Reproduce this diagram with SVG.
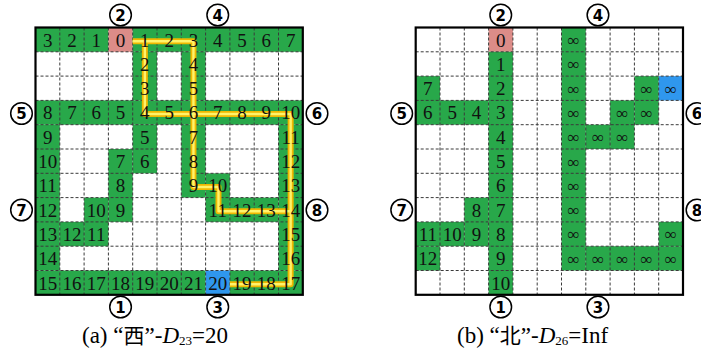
<svg xmlns="http://www.w3.org/2000/svg" xmlns:xlink="http://www.w3.org/1999/xlink" width="701" height="354" viewBox="0 0 701 354">
<style>
.g{fill:#28a84a}
.p{fill:#dc8c88}
.b{fill:#2f97ee}
.grid{fill:none;stroke:#3a3a3a;stroke-width:1;stroke-dasharray:3 2}
.border{fill:none;stroke:#000;stroke-width:2.2}
.n{font-family:"Liberation Serif","Times New Roman",serif;font-size:19px;fill:#111;text-anchor:middle}
.inf{font-family:"Liberation Serif","Times New Roman",serif;font-size:17px;fill:#111;text-anchor:middle}
.cc{fill:#fff;stroke:#000;stroke-width:1.5}
.ct{font-family:"DejaVu Sans","Liberation Sans",sans-serif;font-size:15px;font-weight:bold;fill:#000;text-anchor:middle}
.cap{font-family:"Liberation Serif","Times New Roman","Noto Sans CJK SC",serif;font-size:23px;fill:#000}
.po{fill:none;stroke:#efb800;stroke-width:6;stroke-linejoin:round;stroke-linecap:butt}
.pi{fill:none;stroke:#fff36a;stroke-width:2.4;stroke-linejoin:round;stroke-linecap:butt}
</style>
<defs>
<path id="gridlines" class="grid" d="M24.3,0V267.3M48.6,0V267.3M72.9,0V267.3M97.2,0V267.3M121.5,0V267.3M145.8,0V267.3M170.1,0V267.3M194.4,0V267.3M218.7,0V267.3M243,0V267.3M0,24.3H267.3M0,48.6H267.3M0,72.9H267.3M0,97.2H267.3M0,121.5H267.3M0,145.8H267.3M0,170.1H267.3M0,194.4H267.3M0,218.7H267.3M0,243H267.3"/>
<g id="circ"><circle class="cc" r="10.8"/></g>
</defs>

<!-- Panel (a) -->
<g id="panel-a">
<g id="cells-a">
<rect class="g" x="35.5" y="27.5" width="72.9" height="24.3"/>
<rect class="p" x="108.4" y="27.5" width="24.3" height="24.3"/>
<rect class="g" x="132.7" y="27.5" width="170.1" height="24.3"/>
<rect class="g" x="132.7" y="51.8" width="24.3" height="48.6"/>
<rect class="g" x="181.3" y="51.8" width="24.3" height="48.6"/>
<rect class="g" x="35.5" y="100.4" width="267.3" height="24.3"/>
<rect class="g" x="35.5" y="124.7" width="24.3" height="145.8"/>
<rect class="g" x="132.7" y="124.7" width="24.3" height="48.6"/>
<rect class="g" x="108.4" y="149" width="24.3" height="72.9"/>
<rect class="g" x="181.3" y="124.7" width="24.3" height="72.9"/>
<rect class="g" x="205.6" y="173.3" width="24.3" height="48.6"/>
<rect class="g" x="278.5" y="124.7" width="24.3" height="145.8"/>
<rect class="g" x="84.1" y="197.6" width="24.3" height="48.6"/>
<rect class="g" x="229.9" y="197.6" width="48.6" height="24.3"/>
<rect class="g" x="59.8" y="221.9" width="24.3" height="24.3"/>
<rect class="g" x="35.5" y="270.5" width="170.1" height="24.3"/>
<rect class="b" x="205.6" y="270.5" width="24.3" height="24.3"/>
<rect class="g" x="229.9" y="270.5" width="72.9" height="24.3"/>
</g>
<use xlink:href="#gridlines" href="#gridlines" transform="translate(35.5,27.5)"/>
<rect class="border" x="35.5" y="27.5" width="267.3" height="267.3"/>

<g id="connectors">
<path class="po" d="M132.7,41.2H193.45V187H218.5V211.3H290.65V284.2H229.9"/>
<path class="po" d="M144.85,41.2V114H290.65V211.3"/>
<path class="pi" d="M132.7,41.2H193.45V187H218.5V211.3H290.65V284.2H229.9"/>
<path class="pi" d="M144.85,41.2V114H290.65V211.3"/>
</g>

<g id="nums-a">
<text class="n" x="47.65" y="46.5">3</text><text class="n" x="71.95" y="46.5">2</text><text class="n" x="96.25" y="46.5">1</text><text class="n" x="120.55" y="46.5">0</text><text class="n" x="144.85" y="46.5">1</text><text class="n" x="169.15" y="46.5">2</text><text class="n" x="193.45" y="46.5">3</text><text class="n" x="217.75" y="46.5">4</text><text class="n" x="242.05" y="46.5">5</text><text class="n" x="266.35" y="46.5">6</text><text class="n" x="290.65" y="46.5">7</text>
<text class="n" x="144.85" y="70.8">2</text><text class="n" x="193.45" y="70.8">4</text>
<text class="n" x="144.85" y="95.1">3</text><text class="n" x="193.45" y="95.1">5</text>
<text class="n" x="47.65" y="119.4">8</text><text class="n" x="71.95" y="119.4">7</text><text class="n" x="96.25" y="119.4">6</text><text class="n" x="120.55" y="119.4">5</text><text class="n" x="144.85" y="119.4">4</text><text class="n" x="169.15" y="119.4">5</text><text class="n" x="193.45" y="119.4">6</text><text class="n" x="217.75" y="119.4">7</text><text class="n" x="242.05" y="119.4">8</text><text class="n" x="266.35" y="119.4">9</text><text class="n" x="290.65" y="119.4">10</text>
<text class="n" x="47.65" y="143.7">9</text><text class="n" x="144.85" y="143.7">5</text><text class="n" x="193.45" y="143.7">7</text><text class="n" x="290.65" y="143.7">11</text>
<text class="n" x="47.65" y="168">10</text><text class="n" x="120.55" y="168">7</text><text class="n" x="144.85" y="168">6</text><text class="n" x="193.45" y="168">8</text><text class="n" x="290.65" y="168">12</text>
<text class="n" x="47.65" y="192.3">11</text><text class="n" x="120.55" y="192.3">8</text><text class="n" x="193.45" y="192.3">9</text><text class="n" x="217.75" y="192.3">10</text><text class="n" x="290.65" y="192.3">13</text>
<text class="n" x="47.65" y="216.6">12</text><text class="n" x="96.25" y="216.6">10</text><text class="n" x="120.55" y="216.6">9</text><text class="n" x="217.75" y="216.6">11</text><text class="n" x="242.05" y="216.6">12</text><text class="n" x="266.35" y="216.6">13</text><text class="n" x="290.65" y="216.6">14</text>
<text class="n" x="47.65" y="240.9">13</text><text class="n" x="71.95" y="240.9">12</text><text class="n" x="96.25" y="240.9">11</text><text class="n" x="290.65" y="240.9">15</text>
<text class="n" x="47.65" y="265.2">14</text><text class="n" x="290.65" y="265.2">16</text>
<text class="n" x="47.65" y="289.5">15</text><text class="n" x="71.95" y="289.5">16</text><text class="n" x="96.25" y="289.5">17</text><text class="n" x="120.55" y="289.5">18</text><text class="n" x="144.85" y="289.5">19</text><text class="n" x="169.15" y="289.5">20</text><text class="n" x="193.45" y="289.5">21</text><text class="n" x="217.75" y="289.5">20</text><text class="n" x="242.05" y="289.5">19</text><text class="n" x="266.35" y="289.5">18</text><text class="n" x="290.65" y="289.5">17</text>
</g>

<g id="marks-a">
<use href="#circ" xlink:href="#circ" x="120.55" y="15"/><text class="ct" x="120.55" y="20.5">2</text>
<use href="#circ" xlink:href="#circ" x="217.75" y="15"/><text class="ct" x="217.75" y="20.5">4</text>
<use href="#circ" xlink:href="#circ" x="21.5" y="113.5"/><text class="ct" x="21.5" y="119">5</text>
<use href="#circ" xlink:href="#circ" x="317" y="113.5"/><text class="ct" x="317" y="119">6</text>
<use href="#circ" xlink:href="#circ" x="21.5" y="210"/><text class="ct" x="21.5" y="215.5">7</text>
<use href="#circ" xlink:href="#circ" x="317" y="210"/><text class="ct" x="317" y="215.5">8</text>
<use href="#circ" xlink:href="#circ" x="120.55" y="307"/><text class="ct" x="120.55" y="312.5">1</text>
<use href="#circ" xlink:href="#circ" x="217.75" y="307"/><text class="ct" x="217.75" y="312.5">3</text>
</g>
<text class="cap" x="82" y="343">(a) “<tspan font-family="'Noto Sans CJK SC',sans-serif" font-size="21">西</tspan>”-<tspan font-style="italic">D</tspan><tspan font-size="13" dy="2">23</tspan><tspan dy="-2">=20</tspan></text>
</g>

<!-- Panel (b) -->
<g id="panel-b">
<g id="cells-b">
<rect class="p" x="488.6" y="27.5" width="24.3" height="24.3"/>
<rect class="g" x="488.6" y="51.8" width="24.3" height="243"/>
<rect class="g" x="561.5" y="27.5" width="24.3" height="243"/>
<rect class="g" x="415.7" y="76.1" width="24.3" height="48.6"/>
<rect class="g" x="440" y="100.4" width="48.6" height="24.3"/>
<rect class="g" x="634.4" y="76.1" width="24.3" height="48.6"/>
<rect class="b" x="658.7" y="76.1" width="24.3" height="24.3"/>
<rect class="g" x="610.1" y="100.4" width="24.3" height="48.6"/>
<rect class="g" x="585.8" y="124.7" width="24.3" height="24.3"/>
<rect class="g" x="464.3" y="197.6" width="24.3" height="48.6"/>
<rect class="g" x="415.7" y="221.9" width="48.6" height="24.3"/>
<rect class="g" x="415.7" y="246.2" width="24.3" height="24.3"/>
<rect class="g" x="585.8" y="246.2" width="97.2" height="24.3"/>
<rect class="g" x="658.7" y="221.9" width="24.3" height="24.3"/>
</g>
<use xlink:href="#gridlines" href="#gridlines" transform="translate(415.7,27.5)"/>
<rect class="border" x="415.7" y="27.5" width="267.3" height="267.3"/>

<g id="nums-b">
<text class="n" x="500.75" y="46.5">0</text>
<text class="n" x="500.75" y="70.8">1</text>
<text class="n" x="427.85" y="95.1">7</text><text class="n" x="500.75" y="95.1">2</text>
<text class="n" x="427.85" y="119.4">6</text><text class="n" x="452.15" y="119.4">5</text><text class="n" x="476.45" y="119.4">4</text><text class="n" x="500.75" y="119.4">3</text>
<text class="n" x="500.75" y="143.7">4</text>
<text class="n" x="500.75" y="168">5</text>
<text class="n" x="500.75" y="192.3">6</text>
<text class="n" x="476.45" y="216.6">8</text><text class="n" x="500.75" y="216.6">7</text>
<text class="n" x="427.85" y="240.9">11</text><text class="n" x="452.15" y="240.9">10</text><text class="n" x="476.45" y="240.9">9</text><text class="n" x="500.75" y="240.9">8</text>
<text class="n" x="427.85" y="265.2">12</text><text class="n" x="500.75" y="265.2">9</text>
<text class="n" x="500.75" y="289.5">10</text>
</g>
<g id="infs-b">
<text class="inf" x="573.65" y="46">∞</text>
<text class="inf" x="573.65" y="70.3">∞</text>
<text class="inf" x="573.65" y="94.6">∞</text><text class="inf" x="646.55" y="94.6">∞</text><text class="inf" x="670.85" y="94.6">∞</text>
<text class="inf" x="573.65" y="118.9">∞</text><text class="inf" x="622.25" y="118.9">∞</text><text class="inf" x="646.55" y="118.9">∞</text>
<text class="inf" x="573.65" y="143.2">∞</text><text class="inf" x="597.95" y="143.2">∞</text><text class="inf" x="622.25" y="143.2">∞</text>
<text class="inf" x="573.65" y="167.5">∞</text>
<text class="inf" x="573.65" y="191.8">∞</text>
<text class="inf" x="573.65" y="216.1">∞</text>
<text class="inf" x="573.65" y="240.4">∞</text><text class="inf" x="670.85" y="240.4">∞</text>
<text class="inf" x="573.65" y="264.7">∞</text><text class="inf" x="597.95" y="264.7">∞</text><text class="inf" x="622.25" y="264.7">∞</text><text class="inf" x="646.55" y="264.7">∞</text><text class="inf" x="670.85" y="264.7">∞</text>
</g>

<g id="marks-b">
<use href="#circ" xlink:href="#circ" x="500.75" y="15"/><text class="ct" x="500.75" y="20.5">2</text>
<use href="#circ" xlink:href="#circ" x="597.95" y="15"/><text class="ct" x="597.95" y="20.5">4</text>
<use href="#circ" xlink:href="#circ" x="401.7" y="113.5"/><text class="ct" x="401.7" y="119">5</text>
<use href="#circ" xlink:href="#circ" x="697" y="113.5"/><text class="ct" x="697" y="119">6</text>
<use href="#circ" xlink:href="#circ" x="401.7" y="210"/><text class="ct" x="401.7" y="215.5">7</text>
<use href="#circ" xlink:href="#circ" x="697" y="210"/><text class="ct" x="697" y="215.5">8</text>
<use href="#circ" xlink:href="#circ" x="500.75" y="307"/><text class="ct" x="500.75" y="312.5">1</text>
<use href="#circ" xlink:href="#circ" x="597.95" y="307"/><text class="ct" x="597.95" y="312.5">3</text>
</g>
<text class="cap" x="457" y="343">(b) “<tspan font-family="'Noto Sans CJK SC',sans-serif" font-size="21">北</tspan>”-<tspan font-style="italic">D</tspan><tspan font-size="13" dy="2">26</tspan><tspan dy="-2">=Inf</tspan></text>
</g>
</svg>
